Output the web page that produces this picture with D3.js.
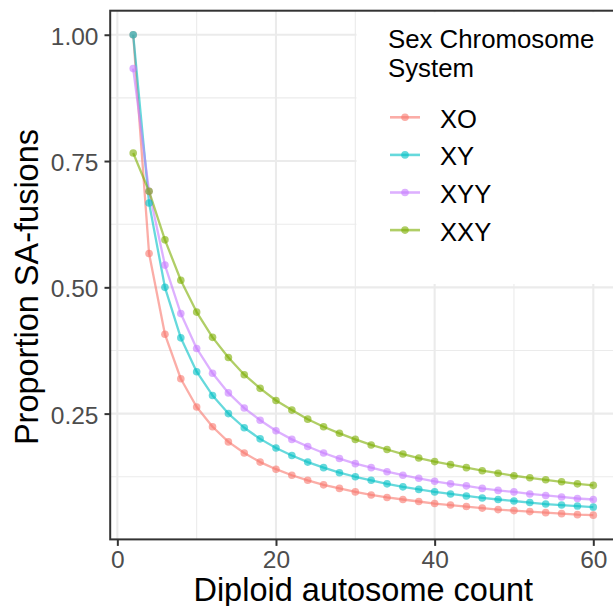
<!DOCTYPE html>
<html>
<head>
<meta charset="utf-8">
<script src="https://cdn.jsdelivr.net/npm/d3@7"></script>
<style>
  html, body { margin: 0; padding: 0; background: #ffffff; }
  svg { display: block; }
  text { font-family: "Liberation Sans", Arial, Helvetica, sans-serif; }
</style>
</head>
<body>
<svg id="chart" width="613" height="606"></svg>
<script>
// ---------------- data ----------------
const autosomes = [2,4,6,8,10,12,14,16,18,20,22,24,26,28,30,32,34,36,38,40,42,44,46,48,50,52,54,56,58,60];

const seriesNames = ["XO", "XY", "XYY", "XXY"];
const seriesColors = ["#F8766D", "#00BFC4", "#C77CFF", "#7CAE00"];

const xoValues  = [1.000,0.567,0.407,0.319,0.263,0.224,0.194,0.172,0.154,0.140,0.128,0.118,0.109,0.102,0.095,0.089,0.084,0.080,0.076,0.072,0.069,0.066,0.063,0.060,0.058,0.056,0.054,0.052,0.050,0.049];
const xyValues  = [1.000,0.667,0.500,0.400,0.333,0.286,0.250,0.222,0.200,0.182,0.167,0.154,0.143,0.133,0.125,0.118,0.111,0.105,0.100,0.095,0.091,0.087,0.083,0.080,0.077,0.074,0.071,0.069,0.067,0.065];
const xyyValues = [0.933,0.690,0.544,0.448,0.379,0.330,0.291,0.261,0.237,0.216,0.199,0.185,0.172,0.161,0.151,0.143,0.135,0.128,0.122,0.116,0.111,0.107,0.102,0.098,0.095,0.091,0.088,0.085,0.082,0.080];
const xxyValues = [0.766,0.690,0.594,0.514,0.451,0.401,0.361,0.327,0.300,0.276,0.257,0.239,0.224,0.211,0.199,0.188,0.179,0.170,0.162,0.155,0.149,0.143,0.137,0.132,0.127,0.123,0.119,0.115,0.111,0.108];

const xTicks = [0, 20, 40, 60];
const xMinor = [10, 30, 50];
const yTicks = [0.25, 0.50, 0.75, 1.00];
const yMinor = [0.125, 0.375, 0.625, 0.875];

const xTitle = "Diploid autosome count";
const yTitle = "Proportion SA-fusions";
const legendTitle = ["Sex Chromosome", "System"];

const seriesValues = [xoValues, xyValues, xyyValues, xxyValues];
const series = seriesNames.map((name, i) => ({
  name, color: seriesColors[i],
  points: autosomes.map((n, j) => ({ n, v: seriesValues[i][j] }))
}));

// ---------------- layout ----------------
const panel = { left: 110.2, right: 616.3, top: 10.7, bottom: 539.4 };
const svg = d3.select("#chart");

const x = d3.scaleLinear().domain([-0.9, 62.9]).range([panel.left, panel.right]);
const y = d3.scaleLinear().domain([0.001, 1.0476]).range([panel.bottom, panel.top]);

// panel background
svg.append("rect")
  .attr("x", panel.left).attr("y", panel.top)
  .attr("width", panel.right - panel.left).attr("height", panel.bottom - panel.top)
  .attr("fill", "#ffffff");

// grid
const grid = svg.append("g");
grid.selectAll(".xminor").data(xMinor).enter().append("line")
  .attr("x1", d => x(d)).attr("x2", d => x(d))
  .attr("y1", panel.top).attr("y2", panel.bottom)
  .attr("stroke", "#ebebeb").attr("stroke-width", 1.1);
grid.selectAll(".yminor").data(yMinor).enter().append("line")
  .attr("y1", d => y(d)).attr("y2", d => y(d))
  .attr("x1", panel.left).attr("x2", panel.right)
  .attr("stroke", "#ebebeb").attr("stroke-width", 1.1);
grid.selectAll(".xmajor").data(xTicks).enter().append("line")
  .attr("x1", d => x(d)).attr("x2", d => x(d))
  .attr("y1", panel.top).attr("y2", panel.bottom)
  .attr("stroke", "#ebebeb").attr("stroke-width", 2.1);
grid.selectAll(".ymajor").data(yTicks).enter().append("line")
  .attr("y1", d => y(d)).attr("y2", d => y(d))
  .attr("x1", panel.left).attr("x2", panel.right)
  .attr("stroke", "#ebebeb").attr("stroke-width", 2.1);

// lines
const line = d3.line().x(d => x(d.n)).y(d => y(d.v));
const linesG = svg.append("g");
series.forEach(s => {
  linesG.append("path")
    .datum(s.points)
    .attr("d", line)
    .attr("fill", "none")
    .attr("stroke", s.color)
    .attr("stroke-width", 2.3)
    .attr("stroke-opacity", 0.6)
    .attr("stroke-linejoin", "round");
});

// points
const ptsG = svg.append("g");
series.forEach(s => {
  ptsG.selectAll(null).data(s.points).enter().append("circle")
    .attr("cx", d => x(d.n)).attr("cy", d => y(d.v))
    .attr("r", 3.8)
    .attr("fill", s.color)
    .attr("fill-opacity", 0.6);
});

// legend (inside panel, top right)
const lg = svg.append("g");
lg.append("rect")
  .attr("x", 356.5).attr("y", panel.top + 1.5)
  .attr("width", 613 - 356.5).attr("height", 284 - panel.top - 1.5)
  .attr("fill", "#ffffff");
lg.selectAll(".lt").data(legendTitle).enter().append("text")
  .attr("x", 388).attr("y", (d, i) => 48.3 + i * 29)
  .attr("font-size", 25.8).attr("fill", "#000000")
  .text(d => d);
series.forEach((s, i) => {
  const ky = 117.3 + i * 37.6;
  lg.append("line")
    .attr("x1", 390).attr("x2", 420).attr("y1", ky).attr("y2", ky)
    .attr("stroke", s.color).attr("stroke-width", 2.6).attr("stroke-opacity", 0.6);
  lg.append("circle")
    .attr("cx", 405).attr("cy", ky).attr("r", 3.8)
    .attr("fill", s.color).attr("fill-opacity", 0.6);
  lg.append("text")
    .attr("x", 440).attr("y", ky + 10.4)
    .attr("font-size", 25.6).attr("fill", "#000000")
    .text(s.name);
});

// panel border
svg.append("rect")
  .attr("x", panel.left).attr("y", panel.top)
  .attr("width", panel.right - panel.left).attr("height", panel.bottom - panel.top)
  .attr("fill", "none").attr("stroke", "#333333").attr("stroke-width", 2);

// axes
const xAxis = d3.axisBottom(x).tickValues(xTicks).tickSize(6.5).tickPadding(5).tickFormat(d3.format("d"));
const gx = svg.append("g").attr("transform", `translate(0,${panel.bottom})`).call(xAxis);
gx.select(".domain").remove();
gx.selectAll(".tick line").attr("stroke", "#333333").attr("stroke-width", 2);
gx.selectAll(".tick text").attr("fill", "#4d4d4d").attr("font-size", 24.5)
  .attr("font-family", "Liberation Sans, Arial, sans-serif")
  .attr("dy", null).attr("y", 28.5);

const yAxis = d3.axisLeft(y).tickValues(yTicks).tickSize(6.5).tickPadding(5.5).tickFormat(d3.format(".2f"));
const gy = svg.append("g").attr("transform", `translate(${panel.left + 0.8},0)`).call(yAxis);
gy.select(".domain").remove();
gy.selectAll(".tick line").attr("stroke", "#333333").attr("stroke-width", 2);
gy.selectAll(".tick text").attr("fill", "#4d4d4d").attr("font-size", 24.5)
  .attr("font-family", "Liberation Sans, Arial, sans-serif")
  .attr("dy", null).attr("dominant-baseline", "alphabetic").attr("y", 9.5)
  .attr("x", -12.5);

// axis titles
svg.append("text")
  .attr("x", (panel.left + panel.right) / 2).attr("y", 601)
  .attr("text-anchor", "middle").attr("font-size", 32.5).attr("fill", "#000000")
  .text(xTitle);
svg.append("text")
  .attr("transform", `translate(38,${(panel.top + panel.bottom) / 2 + 12}) rotate(-90)`)
  .attr("text-anchor", "middle").attr("font-size", 32.5).attr("fill", "#000000")
  .text(yTitle);
</script>
</body>
</html>
